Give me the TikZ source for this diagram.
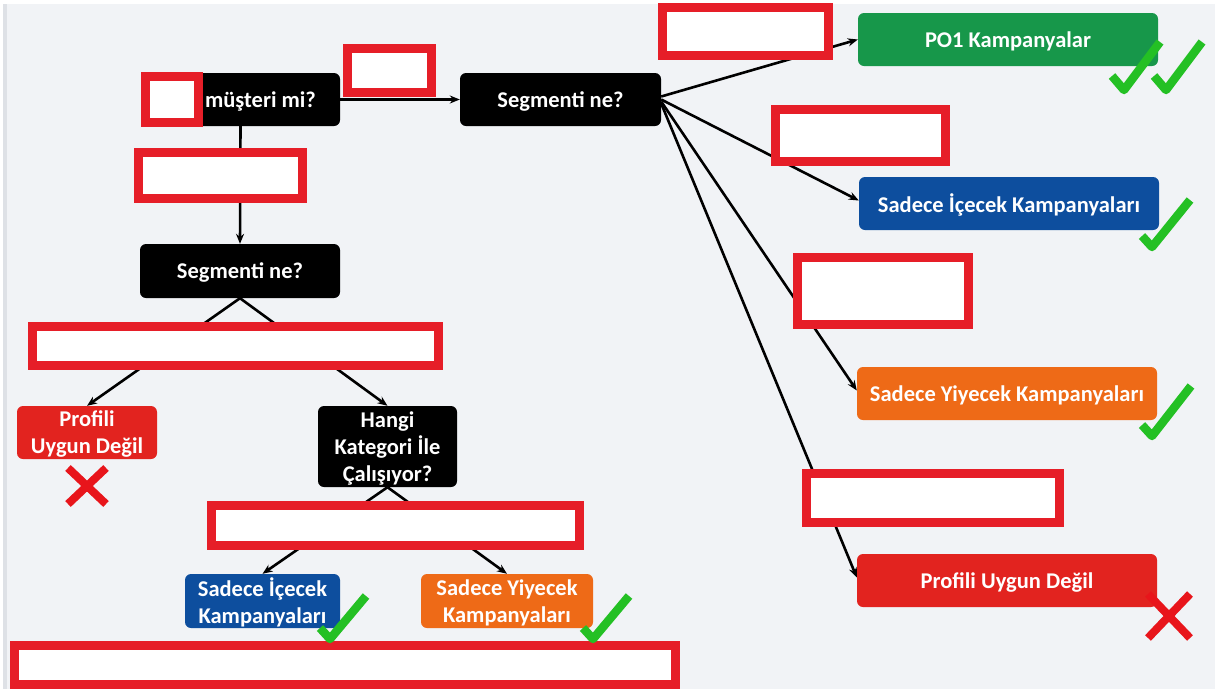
\documentclass[tikz,border=0pt]{standalone}
\usepackage{fontspec}
\setmainfont{Carlito}
\usetikzlibrary{arrows.meta}
\definecolor{bgc}{HTML}{F1F3F6}
\definecolor{edgec}{HTML}{DEE1E6}
\definecolor{redc}{HTML}{E61E28}
\definecolor{greenbox}{HTML}{17974A}
\definecolor{bluebox}{HTML}{0D4E9E}
\definecolor{orangebox}{HTML}{EE6A17}
\definecolor{redbox}{HTML}{E2231F}
\definecolor{chk}{HTML}{24C024}
\definecolor{xred}{HTML}{E8151B}
\tikzset{
  box/.style={rounded corners=6pt, text=white, inner sep=0pt, align=center,
    text depth=0pt, font=\bfseries\fontsize{22.5}{27}\selectfont},
  blackbox/.style={box, fill=black},
  redact/.style={draw=redc, line width=9pt, fill=white, inner sep=0pt},
  conn/.style={line width=2.6pt, -{Stealth[length=10pt,width=8pt]}},
  checkmark/.style={draw=chk, line width=8.5pt, line join=round},
  crossmark/.style={draw=xred, line width=8pt}
}
\begin{document}
\begin{tikzpicture}[x=1pt,y=-1pt]
\useasboundingbox (0,0) rectangle (1215,689);
\fill[white] (0,0) rectangle (1215,689);
\fill[bgc] (3,4) rectangle (1215,689);
\fill[edgec] (3,4) rectangle (7,689);

% decision boxes
\node[blackbox, minimum width=199pt, minimum height=53pt] (b1) at (240.5,99.5) {\hspace*{40pt}müşteri mi?};
\node[blackbox, minimum width=201pt, minimum height=53pt] (b2) at (560.5,99.5) {Segmenti ne?};
\node[blackbox, minimum width=200pt, minimum height=54pt] (b3) at (240,271) {Segmenti ne?};
\node[blackbox, minimum width=139pt, minimum height=81pt] (b4) at (387.5,446.5) {Hangi\\Kategori İle\\Çalışıyor?};

% outcome boxes right
\node[box, fill=greenbox, minimum width=300pt, minimum height=53pt] (po1) at (1008,39.5) {PO1 Kampanyalar};
\node[box, fill=bluebox, minimum width=300pt, minimum height=53pt] (icr) at (1009,203.5) {Sadece İçecek Kampanyaları};
\node[box, fill=orangebox, minimum width=300pt, minimum height=53pt] (yir) at (1007,393.5) {Sadece Yiyecek Kampanyaları};
\node[box, fill=redbox, minimum width=300pt, minimum height=53pt] (prr) at (1007,580.5) {Profili Uygun Değil};

% outcome boxes left
\node[box, fill=redbox, minimum width=140pt, minimum height=53pt] (prl) at (87,432.5) {Profili\\Uygun Değil};
\node[box, fill=bluebox, minimum width=155pt, minimum height=54pt] (icl) at (262.5,601) {Sadece İçecek\\Kampanyaları};
\node[box, fill=orangebox, minimum width=172pt, minimum height=54pt] (yil) at (507,601) {Sadece Yiyecek\\Kampanyaları};

% connectors
\draw[conn] (b1.east) -- (b2.west);
\draw[conn] (b1.south) -- (b3.north);
\draw[conn] (b3.south) -- (prl.north);
\draw[conn] (b3.south) -- (b4.north);
\draw[conn] (b4.south) -- (icl.north);
\draw[conn] (b4.south) -- (yil.north);
\draw[conn] ([yshift=3pt]b2.east) -- (po1.west);
\draw[conn] (b2.east) -- ([yshift=3pt]icr.west);
\draw[conn] ([yshift=-2pt]b2.east) -- ([yshift=3pt]yir.west);
\draw[conn] ([yshift=-4pt]b2.east) -- ([yshift=3pt]prr.west);

% redaction boxes
\node[redact, minimum width=53pt, minimum height=46pt] (r1) at (172,99.5) {};
\node[redact, minimum width=84pt, minimum height=44pt] (r2) at (389.5,70.5) {};
\node[redact, minimum width=164pt, minimum height=46pt] (r3) at (220.5,175.5) {};
\node[redact, minimum width=406pt, minimum height=39pt] (r4) at (235.5,346) {};
\node[redact, minimum width=368pt, minimum height=40pt] (r5) at (395.5,525.5) {};
\node[redact, minimum width=661pt, minimum height=39pt] (r6) at (345,665) {};
\node[redact, minimum width=166pt, minimum height=48pt] (r7) at (745.5,31.5) {};
\node[redact, minimum width=170pt, minimum height=52pt] (r8) at (860.5,135.5) {};
\node[redact, minimum width=171pt, minimum height=67pt] (r9) at (883,291) {};
\node[redact, minimum width=253pt, minimum height=49pt] (r10) at (933,498) {};

% check marks
\draw[checkmark] (1112,76) -- (1124,90) -- (1160,42);
\draw[checkmark] (1154,76) -- (1166,90) -- (1202,42);
\draw[checkmark] (1142,236) -- (1152,247) -- (1190,200);
\draw[checkmark] (1142,425) -- (1152,436) -- (1191,386);
\draw[checkmark] (320,628) -- (330,639) -- (366,596);
\draw[checkmark] (583,628) -- (593,639) -- (629,596);

% cross marks
\draw[crossmark] (68,468) -- (106,504) (106,468) -- (68,504);
\draw[crossmark] (1148,594) -- (1190,638) (1190,594) -- (1148,638);
\end{tikzpicture}
\end{document}
